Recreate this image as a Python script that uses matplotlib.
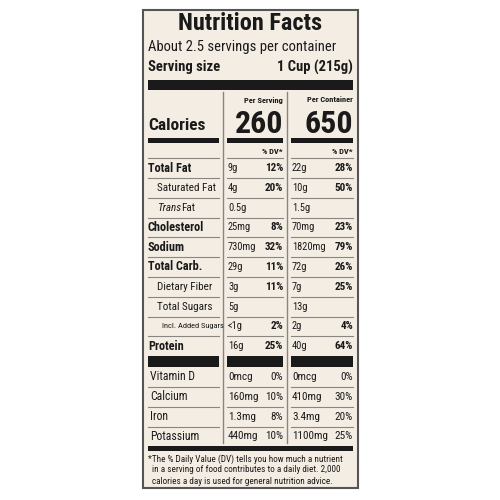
import matplotlib
matplotlib.use("Agg")
import matplotlib.pyplot as plt
from matplotlib.patches import Rectangle

plt.rcParams['font.family'] = ['Roboto Condensed', 'Roboto', 'DejaVu Sans']

nutrients = ["Total Fat", "Saturated Fat", "Trans Fat", "Cholesterol", "Sodium", "Total Carb.",
             "Dietary Fiber", "Total Sugars", "Incl. Added Sugars", "Protein"]
serv_amt = ["9g", "4g", "0.5g", "25mg", "730mg", "29g", "3g", "5g", "<1g", "16g"]
serv_dv = ["12%", "20%", "", "8%", "32%", "11%", "11%", "", "2%", "25%"]
cont_amt = ["22g", "10g", "1.5g", "70mg", "1820mg", "72g", "7g", "13g", "2g", "40g"]
cont_dv = ["28%", "50%", "", "23%", "79%", "26%", "25%", "", "4%", "64%"]
indent = [0, 1, 1, 0, 0, 0, 1, 1, 2, 0]
bold = [1, 0, 0, 1, 1, 1, 0, 0, 0, 1]

vitamins = ["Vitamin D", "Calcium", "Iron", "Potassium"]
vit_serv_amt = ["0mcg", "160mg", "1.3mg", "440mg"]
vit_serv_dv = ["0%", "10%", "8%", "10%"]
vit_cont_amt = ["0mcg", "410mg", "3.4mg", "1100mg"]
vit_cont_dv = ["0%", "30%", "20%", "25%"]

cal_serv, cal_cont = "260", "650"

fig = plt.figure(figsize=(5, 5), dpi=100)
ax = fig.add_axes([0, 0, 1, 1])
ax.set_xlim(0, 500); ax.set_ylim(500, 0); ax.axis('off')
bg = '#f4ede4'; ink = '#1a1a1a'; grey = '#8a8580'
ax.add_patch(Rectangle((143, 10), 215, 478, facecolor=bg, edgecolor='#555', lw=1.5))

def bar(x0, x1, y, h, c=ink):
    ax.add_patch(Rectangle((x0, y), x1 - x0, h, facecolor=c, edgecolor='none'))

L, R = 148, 353
c1a, c1b = 227, 283
c2a, c2b = 291, 353
ax.text((L + R) / 2, 24, "Nutrition Facts", fontsize=17.5, fontweight='heavy', ha='center', va='center', color=ink)
ax.text(L, 47, "About 2.5 servings per container", fontsize=10.5, va='center', color=ink)
ax.text(L, 67, "Serving size", fontsize=10.5, fontweight='bold', va='center', color=ink)
ax.text(R, 67, "1 Cup (215g)", fontsize=10.5, fontweight='bold', va='center', ha='right', color=ink)
bar(L, R, 80, 10)
ax.plot([223, 223], [92, 443], color=grey, lw=1)
ax.plot([287, 287], [92, 443], color=grey, lw=1)
ax.text(c1b, 100, "Per Serving", fontsize=6, fontweight='bold', ha='right', va='center', color=ink)
ax.text(c2b, 100, "Per Container", fontsize=6, fontweight='bold', ha='right', va='center', color=ink)
ax.text(L, 126, "Calories", fontsize=12.5, fontweight='bold', va='center', color=ink)
ax.text(c1b, 124, cal_serv, fontsize=23, fontweight='bold', ha='right', va='center', color=ink)
ax.text(c2b, 124, cal_cont, fontsize=23, fontweight='bold', ha='right', va='center', color=ink)
bar(L, 219, 138, 5); bar(c1a, c1b, 138, 5); bar(c2a, c2b, 138, 5)
ax.text(c1b, 151, "% DV*", fontsize=6, fontweight='bold', ha='right', va='center', color=ink)
ax.text(c2b, 151, "% DV*", fontsize=6, fontweight='bold', ha='right', va='center', color=ink)

def seps(y):
    ax.plot([L, 219], [y, y], color=grey, lw=0.8)
    ax.plot([c1a, c1b], [y, y], color=grey, lw=0.8)
    ax.plot([c2a, c2b], [y, y], color=grey, lw=0.8)

seps(158)
for i, n in enumerate(nutrients):
    y = 168 + i * 19.8
    fs = 8.8 if bold[i] else 8
    if indent[i] == 2:
        fs = 6
    fw = 'bold' if bold[i] else 'normal'
    x = L + [0, 9, 14][indent[i]]
    if n == "Trans Fat":
        t = ax.text(x, y, "Trans", fontsize=fs, style='italic', va='center', color=ink)
        ax.text(x + 24, y, "Fat", fontsize=fs, va='center', color=ink)
    else:
        ax.text(x, y, n, fontsize=fs, fontweight=fw, va='center', color=ink)
    ax.text(c1a + 1, y, serv_amt[i], fontsize=7.5, va='center', color=ink)
    ax.text(c1b, y, serv_dv[i], fontsize=8, fontweight='bold', ha='right', va='center', color=ink)
    ax.text(c2a + 1, y, cont_amt[i], fontsize=7.5, va='center', color=ink)
    ax.text(c2b, y, cont_dv[i], fontsize=8, fontweight='bold', ha='right', va='center', color=ink)
    if i < len(nutrients) - 1:
        seps(y + 10)
bar(L, 219, 356, 11); bar(c1a, c1b, 356, 11); bar(c2a, c2b, 356, 11)
for i, n in enumerate(vitamins):
    y = 377 + i * 19.8
    ax.text(L + 2, y, n, fontsize=8.5, va='center', color=ink)
    ax.text(c1a + 1, y, vit_serv_amt[i], fontsize=8, va='center', color=ink)
    ax.text(c1b, y, vit_serv_dv[i], fontsize=8, ha='right', va='center', color=ink)
    ax.text(c2a + 1, y, vit_cont_amt[i], fontsize=8, va='center', color=ink)
    ax.text(c2b, y, vit_cont_dv[i], fontsize=8, ha='right', va='center', color=ink)
    if i < len(vitamins) - 1:
        seps(y + 10)
bar(L, R, 446, 5)
foot = ["*The % Daily Value (DV) tells you how much a nutrient",
        "in a serving of food contributes to a daily diet. 2,000",
        "calories a day is used for general nutrition advice."]
for i, t in enumerate(foot):
    ax.text(L + (0 if i == 0 else 4), 459 + i * 11, t, fontsize=6.6, va='center', color=ink)
fig.savefig("out.png", dpi=100, facecolor='white')
